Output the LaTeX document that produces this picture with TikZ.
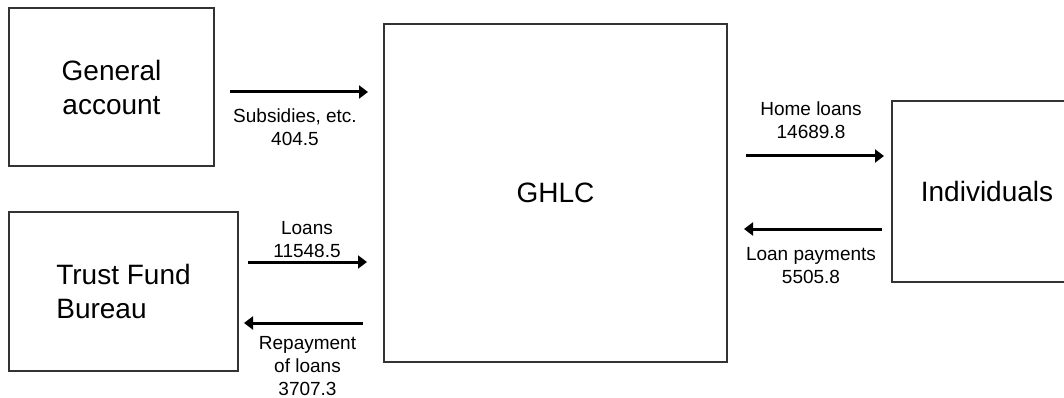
\documentclass[tikz,border=0pt]{standalone}
\usepackage{fontspec}
\setmainfont{Liberation Sans}
\usetikzlibrary{arrows.meta}
\begin{document}
\begin{tikzpicture}[x=1pt,y=-1pt,
  box/.style={draw=black!80,line width=1.1pt,fill=white,minimum width=#1,inner sep=0pt},
  bigtext/.style={font=\fontsize{28}{34}\selectfont},
  flowlabel/.style={align=center,inner sep=0pt,font=\fontsize{19}{23}\selectfont},
  flow/.style={line width=3pt,-{Triangle[length=9pt,width=13pt]}}
]
\useasboundingbox (0,0) rectangle (1064,398);
\begin{scope}
\clip (0,0) rectangle (1064,398);
% entities
\node[box=205pt,minimum height=158pt,bigtext,align=center] (ga) at (111.5,87) {General\\account};
\node[box=229pt,minimum height=159pt,bigtext,align=left] (tfb) at (123.5,291.5) {Trust Fund\\Bureau};
\node[box=343pt,minimum height=338pt,bigtext] (ghlc) at (555.5,193) {GHLC};
\node[box=190pt,minimum height=181pt,bigtext] (ind) at (987,191.5) {Individuals};

% arrow end points
\coordinate (s1) at (230,92);   \coordinate (s2) at (368,92);
\coordinate (l1) at (248,262);  \coordinate (l2) at (367,262);
\coordinate (r1) at (363,323);  \coordinate (r2) at (244,323);
\coordinate (h1) at (746,156);  \coordinate (h2) at (884,156);
\coordinate (p1) at (882,229);  \coordinate (p2) at (744,229);

% flows
\draw[flow] (s1) -- (s2);
\draw[flow] (l1) -- (l2);
\draw[flow] (r1) -- (r2);
\draw[flow] (h1) -- (h2);
\draw[flow] (p1) -- (p2);

% flow labels
\node[flowlabel] (subl) at (295,127) {Subsidies, etc.\\404.5};
\node[flowlabel] (loanl) at (307,240) {Loans\\11548.5};
\node[flowlabel] (repl) at (307.5,366) {Repayment\\of loans\\3707.3};
\node[flowlabel] (homel) at (811,120) {Home loans\\14689.8};
\node[flowlabel] (payl) at (811,266) {Loan payments\\5505.8};
\end{scope}
\end{tikzpicture}
\end{document}
